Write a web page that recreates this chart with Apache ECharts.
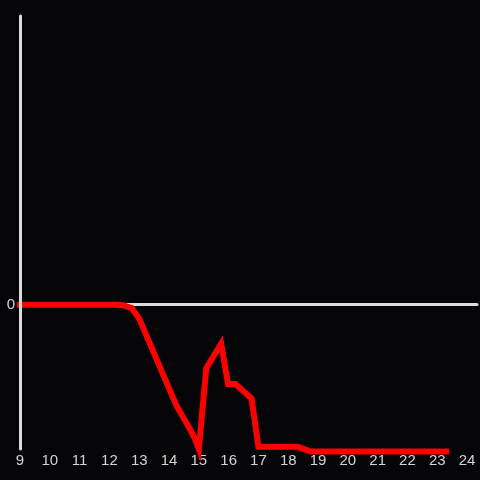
<!DOCTYPE html>
<html>
<head>
<meta charset="utf-8">
<script src="https://cdn.jsdelivr.net/npm/echarts@6/dist/echarts.min.js"></script>
<style>
  html, body { margin: 0; padding: 0; background: #050407; }
  #chart { width: 480px; height: 480px; }
</style>
</head>
<body>
<div id="chart"></div>
<script>
// hours of the day (x) and values (y)
const hours = [9, 12.25, 12.45, 12.75, 13.0, 14.25, 14.67, 14.87, 15.0, 15.25, 15.75, 15.98, 16.23, 16.77, 17.0, 18.33, 18.75, 23.3];
const values = [0, 0, -0.004, -0.024, -0.097, -0.70, -0.85, -0.93, -1.0, -0.44, -0.27, -0.55, -0.55, -0.65, -0.985, -0.985, -1.017, -1.017];
const xMin = 9;
const xMax = 24 + 1 / 3;
const yMin = -1;
const yMax = 2;

const labelStyle = {
  color: "#d4d4d4",
  fontSize: 15,
  fontFamily: "Liberation Sans",
};

const option = {
  backgroundColor: "#050407",
  animation: false,
  grid: {
    left: 20,
    right: 0,
    top: 16,
    bottom: 31,
  },
  xAxis: [
    {
      type: "value",
      min: xMin,
      max: xMax,
      interval: 1,
      axisLine: { show: false, onZero: false },
      axisTick: { show: false },
      splitLine: { show: false },
      axisLabel: {
        ...labelStyle,
        margin: 4,
        formatter: (v) => (Number.isInteger(v) ? String(v) : ""),
      },
    },
    {
      // zero line
      type: "value",
      min: xMin,
      max: xMax,
      position: "bottom",
      axisLine: {
        show: true,
        onZero: true,
        lineStyle: { color: "#dcdcdc", width: 3 },
      },
      axisTick: { show: false },
      axisLabel: { show: false },
      splitLine: { show: false },
    },
  ],
  yAxis: {
    type: "value",
    min: yMin,
    max: yMax,
    interval: 1,
    z: 5,
    axisLine: {
      show: true,
      lineStyle: { color: "#dcdcdc", width: 3 },
    },
    axisTick: { show: false },
    splitLine: { show: false },
    axisLabel: {
      ...labelStyle,
      margin: 5,
      formatter: (v) => (v === 0 ? "0" : ""),
    },
  },
  series: [
    {
      type: "line",
      data: hours.map((h, i) => [h, values[i]]),
      symbol: "none",
      clip: false,
      lineStyle: {
        color: "#ff0000",
        width: 6,
        cap: "square",
        join: "miter",
      },
    },
  ],
};

const chart = echarts.init(document.getElementById("chart"));
chart.setOption(option);
</script>
</body>
</html>
